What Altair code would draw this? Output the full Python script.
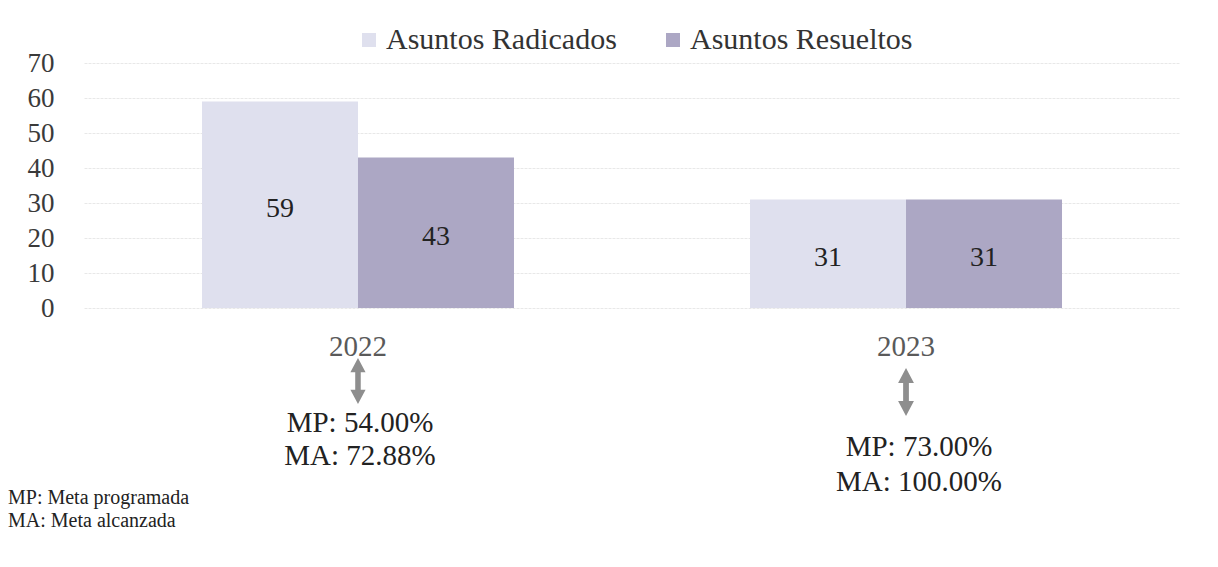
import altair as alt
import pandas as pd

# ---- data ----
years = ["2022", "2023"]
series = ["Asuntos Radicados", "Asuntos Resueltos"]
radicados = [59, 31]
resueltos = [43, 31]
meta_programada = ["54.00%", "73.00%"]
meta_alcanzada = ["72.88%", "100.00%"]
y_ticks = [0, 10, 20, 30, 40, 50, 60, 70]
footnotes = ["MP: Meta programada", "MA: Meta alcanzada"]

rows = []
for i, yr in enumerate(years):
    rows.append({"year": yr, "series": series[0], "value": radicados[i]})
    rows.append({"year": yr, "series": series[1], "value": resueltos[i]})
bars_df = pd.DataFrame(rows)
anno_df = pd.DataFrame({
    "year": years,
    "mp": ["MP: " + v for v in meta_programada],
    "ma": ["MA: " + v for v in meta_alcanzada],
})
foot_df = pd.DataFrame({"text": ["\n".join(footnotes)]})

FONT = "Liberation Serif"
COLORS = ["#dfe0ee", "#aca7c4"]

x_scale = alt.Scale(domain=years, paddingInner=0.4307, paddingOuter=0.2153)
x_axis = alt.Axis(title=None, labelAngle=0, ticks=False, domain=False, grid=False,
                  labelFont=FONT, labelFontSize=29, labelColor="#5a5a5a",
                  labelPadding=38, labelBaseline="middle")
y_scale = alt.Scale(domain=[0, 70], nice=False)
y_axis = alt.Axis(title=None, values=y_ticks, ticks=False, domain=False,
                  grid=True, gridColor="#e8e8e8", gridWidth=1, gridDash=[3, 1],
                  labelFont=FONT, labelFontSize=27, labelColor="#3a3a3a",
                  labelPadding=30)
xoff = alt.XOffset("series:N", scale=alt.Scale(domain=series, paddingInner=0, paddingOuter=0))

bars = alt.Chart(bars_df).mark_bar().encode(
    x=alt.X("year:N", scale=x_scale, axis=x_axis),
    xOffset=xoff,
    y=alt.Y("value:Q", scale=y_scale, axis=y_axis),
    color=alt.Color("series:N",
                    scale=alt.Scale(domain=series, range=COLORS),
                    legend=alt.Legend(title=None, orient="none", legendX=270, legendY=-38,
                                      direction="horizontal", symbolType="square",
                                      symbolSize=196, symbolStrokeWidth=0,
                                      labelFont=FONT, labelFontSize=30, labelColor="#333333",
                                      labelLimit=500, columnPadding=41, labelOffset=2)),
)

values_txt = alt.Chart(bars_df).transform_calculate(mid="datum.value / 2").mark_text(
    font=FONT, fontSize=28, color="#222222", baseline="middle", dy=4
).encode(
    x=alt.X("year:N", scale=x_scale, axis=x_axis),
    xOffset=xoff,
    y=alt.Y("mid:Q", scale=y_scale, axis=y_axis),
    text=alt.Text("value:Q"),
)

arrow_path = ("M0,-1 L0.33,-0.38 L0.12,-0.38 L0.12,0.38 L0.33,0.38 L0,1 "
              "L-0.33,0.38 L-0.12,0.38 L-0.12,-0.38 L-0.33,-0.38 Z")

layers = [bars, values_txt]
# per-year placement of the annotation block (2023 block sits lower and a bit right)
placements = {"2022": (318, 360, 393, 2, 2116), "2023": (329, 384, 419, 13, 2304)}
for yr in years:
    arr_y, mp_y, ma_y, dx, asize = placements[yr]
    base = alt.Chart(anno_df).transform_filter(alt.datum.year == yr)
    layers.append(base.mark_point(shape=arrow_path, size=asize, filled=True,
                                  color="#8e8e8e", opacity=1).encode(
        x=alt.X("year:N", scale=x_scale, axis=x_axis), y=alt.value(arr_y)))
    layers.append(base.mark_text(font=FONT, fontSize=29, color="#222222",
                                 baseline="middle", dx=dx).encode(
        x=alt.X("year:N", scale=x_scale, axis=x_axis), y=alt.value(mp_y), text="mp:N"))
    layers.append(base.mark_text(font=FONT, fontSize=29, color="#222222",
                                 baseline="middle", dx=dx).encode(
        x=alt.X("year:N", scale=x_scale, axis=x_axis), y=alt.value(ma_y), text="ma:N"))

foot = alt.Chart(foot_df).mark_text(font=FONT, fontSize=20, color="#222222",
                                    align="left", baseline="middle",
                                    lineBreak="\n", lineHeight=23).encode(
    x=alt.value(-76), y=alt.value(435), text="text:N")
layers.append(foot)

chart = alt.layer(*layers).properties(
    width=1096, height=245,
    padding={"left": 76, "top": 55, "right": 20, "bottom": 240},
    autosize=alt.AutoSizeParams(type="none"),
    background="white",
).configure_view(strokeWidth=0)

chart.save("out.html", embed_options={"renderer": "svg", "actions": False})
